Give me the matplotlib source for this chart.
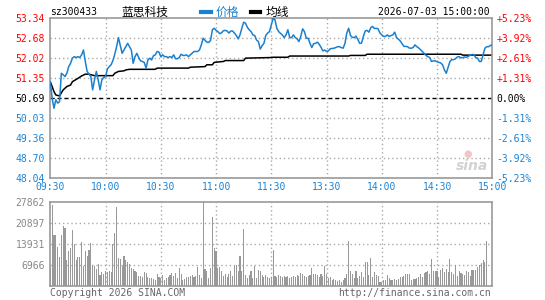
import matplotlib
matplotlib.use('Agg')
import matplotlib.pyplot as plt
from matplotlib.lines import Line2D

plt.rcParams['font.family'] = ['DejaVu Sans Mono', 'Noto Sans CJK SC']

# ---------------- data ----------------
prev_close = 50.69
y_ticks = [48.04, 48.70, 49.36, 50.03, 50.69, 51.35, 52.02, 52.68, 53.34]
y_labels = ['48.04', '48.70', '49.36', '50.03', '50.69', '51.35', '52.02', '52.68', '53.34']
pct_labels = ['-5.23%', '-3.92%', '-2.61%', '-1.31%', '0.00%', '+1.31%', '+2.61%', '+3.92%', '+5.23%']
time_ticks = [0, 30, 60, 90, 120, 150, 180, 210, 240]
time_labels = ['09:30', '10:00', '10:30', '11:00', '11:30', '13:30', '14:00', '14:30', '15:00']
vol_ticks = [6966, 13931, 20897, 27862]
vol_labels = ['6966', '13931', '20897', '27862']

price = [51.24, 50.69, 50.36, 50.64, 50.53, 50.58, 51.52, 51.47, 51.41, 51.52,
         51.74, 51.85, 52.02, 52.07, 52.04, 52.07, 52.04, 52.13, 52.29, 51.91,
         51.58, 51.49, 51.41, 50.97, 51.30, 51.58, 51.30, 50.97, 51.30, 51.38,
         51.41, 51.66, 51.74, 51.80, 51.94, 52.15, 52.40, 52.70, 52.44, 52.18,
         52.29, 52.40, 52.51, 52.40, 52.29, 51.85, 52.07, 52.18, 52.04, 51.93,
         51.91, 51.88, 51.69, 51.96, 52.02, 51.96, 52.10, 52.13, 52.24, 52.22,
         52.07, 52.13, 52.07, 52.07, 52.04, 52.07, 52.04, 52.13, 52.00, 52.00,
         52.04, 52.15, 52.11, 52.11, 52.13, 52.07, 52.13, 52.18, 52.24, 52.24,
         52.24, 52.29, 52.46, 52.68, 52.61, 52.55, 52.54, 52.60, 52.96, 53.01,
         52.94, 52.90, 52.83, 52.86, 52.93, 52.94, 52.92, 52.85, 52.92, 52.92,
         52.85, 52.77, 52.66, 52.79, 53.01, 53.21, 53.18, 53.04, 52.96, 52.90,
         52.79, 52.77, 52.62, 52.57, 52.32, 52.43, 52.51, 52.77, 52.85, 52.90,
         53.12, 53.34, 53.29, 53.01, 52.90, 52.84, 52.79, 52.70, 52.79, 52.96,
         52.70, 52.70, 52.79, 52.70, 52.66, 52.57, 52.74, 52.99, 52.90, 52.68,
         52.68, 52.51, 52.37, 52.50, 52.51, 52.55, 52.48, 52.38, 52.26, 52.29,
         52.24, 52.26, 52.33, 52.34, 52.35, 52.37, 52.40, 52.40, 52.37, 52.35,
         52.51, 52.85, 53.01, 52.77, 52.71, 52.70, 52.75, 52.64, 52.51, 52.52,
         52.74, 52.92, 52.94, 52.88, 53.03, 53.07, 53.00, 53.01, 52.99, 52.85,
         52.79, 52.74, 52.74, 52.79, 52.74, 52.77, 52.79, 52.88, 52.70, 52.65,
         52.59, 52.50, 52.41, 52.41, 52.40, 52.35, 52.35, 52.37, 52.46, 52.40,
         52.36, 52.30, 52.24, 52.18, 52.11, 52.07, 52.04, 51.91, 51.93, 51.93,
         51.90, 51.88, 51.86, 51.80, 51.63, 51.52, 51.71, 51.91, 51.97, 51.97,
         52.00, 52.06, 52.07, 52.03, 52.04, 52.06, 52.05, 52.08, 52.12, 52.14,
         52.14, 52.04, 52.02, 51.91, 51.91, 52.13, 52.35, 52.40, 52.40, 52.44,
         52.46]

avg_min = [0, 1, 2, 3, 5, 7, 9, 11, 12, 15, 17, 19, 21, 22, 24, 34, 35, 37, 40, 41,
           43, 57, 58, 75, 76, 84, 85, 88, 89, 94, 95, 105, 106, 120, 121, 129, 130,
           162, 163, 171, 172, 223, 224, 240]
avg_val = [51.24, 51.08, 50.91, 50.80, 50.77, 50.97, 51.08, 51.13, 51.24, 51.35,
           51.43, 51.49, 51.49, 51.47, 51.44, 51.44, 51.52, 51.58, 51.60, 51.63,
           51.65, 51.65, 51.69, 51.69, 51.72, 51.74, 51.80, 51.80, 51.88, 51.91,
           51.94, 51.94, 52.02, 52.04, 52.05, 52.05, 52.09, 52.09, 52.11, 52.11,
           52.15, 52.15, 52.12, 52.12]

volume = [6400, 26650, 17000, 16700, 13000, 9700, 16700, 20000, 19200, 8500,
          11700, 12700, 18500, 13800, 8500, 9700, 9500, 14400, 6500, 11700,
          10000, 11800, 14200, 7000, 6500, 5700, 7300, 3500, 4500, 4000,
          5000, 4500, 5000, 4500, 14000, 17500, 26300, 9300, 8800, 6500,
          9800, 8500, 8000, 7300, 6000, 5500, 4800, 4500, 3400, 3400,
          3000, 4500, 4400, 3000, 2500, 2500, 2300, 2000, 4000, 3000,
          2500, 3500, 2000, 2500, 2800, 3500, 4200, 3200, 4200, 2500,
          6000, 4000, 1800, 2200, 3000, 2800, 3200, 3500, 3000, 3200,
          6200, 3600, 2500, 27862, 5500, 4800, 2700, 6000, 22700, 12500,
          11700, 6000, 6200, 4800, 3400, 4000, 3000, 3800, 4800, 3400,
          6500, 7000, 5000, 10000, 5000, 19000, 3500, 2600, 3500, 4800,
          2500, 6500, 2600, 5200, 4800, 3500, 2800, 3500, 3000, 2600,
          3000, 12000, 3200, 2800, 3500, 3300, 3000, 3300, 2800, 3200,
          2500, 3000, 3300, 3000, 3500, 3300, 4200, 4000, 3200, 2800,
          3300, 3500, 5800, 4000, 4000, 3500, 2800, 4000, 3200, 6500,
          4000, 2500, 2800, 2000, 2200, 1800, 1500, 1800, 1400, 1800,
          2700, 3800, 15000, 5000, 4000, 2600, 5000, 2500, 3200, 4500,
          3000, 8000, 8000, 3500, 9300, 2800, 4500, 3500, 3200, 1200,
          1300, 2000, 1800, 3500, 2600, 1900, 1800, 2300, 2000, 2300,
          3000, 2800, 3300, 4000, 4000, 3800, 2000, 2200, 2200, 2500,
          3000, 3800, 3000, 4200, 4600, 4800, 4000, 9000, 5000, 4800,
          5000, 3000, 5200, 6000, 4500, 5500, 4500, 9000, 4500, 4000,
          7000, 3200, 5000, 4200, 4000, 3600, 4800, 4500, 3300, 5400,
          5400, 5400, 6200, 7000, 7500, 8500, 8000, 15000]

# ---------------- style ----------------
RED = '#ff0000'
BLUE = '#1a84d6'
LINE_BLUE = '#1a80d0'
GRID = '#aaaaaa'
BORDER = '#999999'
VOLC = '#999999'
FS = 7

W, H = 545, 300
fig = plt.figure(figsize=(W / 100, H / 100), dpi=100)
fig.patch.set_facecolor('white')

def fx(px):
    return px / W

def fy(py):
    return 1 - py / H

L, R = 50.3, 492.3
ax = fig.add_axes([fx(L), fy(178.3), (R - L) / W, 160 / H])
axv = fig.add_axes([fx(L), fy(285.8), (R - L) / W, 84 / H])

dot = (0, (1, 2))

# ---- main panel ----
ax.set_xlim(0, 240)
ax.set_ylim(y_ticks[0], y_ticks[-1])
for v in y_ticks[1:-1]:
    if abs(v - prev_close) < 1e-6:
        ax.axhline(v, color='black', lw=1, ls=(0, (3, 2)), zorder=1)
    else:
        ax.axhline(v, color=GRID, lw=1, ls=dot, zorder=1)
for t in time_ticks[1:-1]:
    ax.axvline(t, color=GRID, lw=1, ls=dot, zorder=1)

ax.plot(range(len(price)), price, color=LINE_BLUE, lw=1.1, zorder=3)
ax.plot(avg_min, avg_val, color='black', lw=1.1, zorder=2)

for s in ax.spines.values():
    s.set_color(BORDER)
    s.set_linewidth(1.2)

ax.set_yticks(y_ticks, labels=y_labels)
ax.set_xticks(time_ticks, labels=time_labels)
ax.tick_params(length=0, labelsize=FS)
ax.tick_params(axis='y', pad=4)
ax.tick_params(axis='x', pad=3, colors=BLUE)
for lab, v in zip(ax.get_yticklabels(), y_ticks):
    lab.set_color(RED if v > prev_close + 1e-6 else ('black' if abs(v - prev_close) < 1e-6 else BLUE))

axr = ax.twinx()
axr.set_ylim(y_ticks[0], y_ticks[-1])
axr.set_yticks(y_ticks, labels=pct_labels)
axr.tick_params(length=0, labelsize=FS, pad=3)
for s in axr.spines.values():
    s.set_visible(False)
for lab, v in zip(axr.get_yticklabels(), y_ticks):
    lab.set_color(RED if v > prev_close + 1e-6 else ('black' if abs(v - prev_close) < 1e-6 else BLUE))

# ---- volume panel ----
axv.set_xlim(0, 240)
axv.set_ylim(0, vol_ticks[-1])
for v in vol_ticks[:-1]:
    axv.axhline(v, color=GRID, lw=1, ls=dot, zorder=1)
for t in time_ticks[1:-1]:
    axv.axvline(t, color=GRID, lw=1, ls=dot, zorder=1)
axv.bar(range(len(volume)), volume, width=0.6, color=VOLC, linewidth=0, zorder=2)
for s in axv.spines.values():
    s.set_color(BORDER)
    s.set_linewidth(1.2)
axv.set_xticks([])
axv.set_yticks(vol_ticks, labels=vol_labels)
axv.tick_params(length=0, labelsize=FS, pad=4, colors='#888888')

# ---- header ----
ty = fy(12)
fig.text(fx(50), ty, 'sz300433', fontsize=FS, ha='left', va='center', color='black')
fig.text(fx(121), ty, '蓝思科技', fontsize=8.5, ha='left', va='center', color='black',
         family=['Noto Sans CJK SC'])
fig.add_artist(Line2D([fx(201), fx(211)], [ty, ty], transform=fig.transFigure, color=LINE_BLUE, lw=3))
fig.text(fx(216), ty, '价格', fontsize=8.5, ha='left', va='center', color=LINE_BLUE,
         family=['Noto Sans CJK SC'])
fig.add_artist(Line2D([fx(251), fx(260)], [ty, ty], transform=fig.transFigure, color='black', lw=3))
fig.text(fx(266), ty, '均线', fontsize=8.5, ha='left', va='center', color='black',
         family=['Noto Sans CJK SC'])
fig.text(fx(490), ty, '2026-07-03 15:00:00', fontsize=FS, ha='right', va='center', color='black')

# ---- footer ----
fy_f = fy(293.5)
fig.text(fx(50), fy_f, 'Copyright 2026 SINA.COM', fontsize=FS, ha='left', va='center', color='#666666')
fig.text(fx(491), fy_f, 'http://finance.sina.com.cn', fontsize=FS, ha='right', va='center', color='#666666')

# ---- watermark ----
fig.text(fx(472), fy(166), 'sina', fontsize=10, style='italic', weight='bold', ha='center', va='center',
         color='#d2d2d2', family=['DejaVu Sans'])
fig.text(fx(468), fy(154), '●', fontsize=7, ha='center', va='center', color='#f3c6c6', family=['DejaVu Sans'])

fig.savefig('out.png', dpi=100)
